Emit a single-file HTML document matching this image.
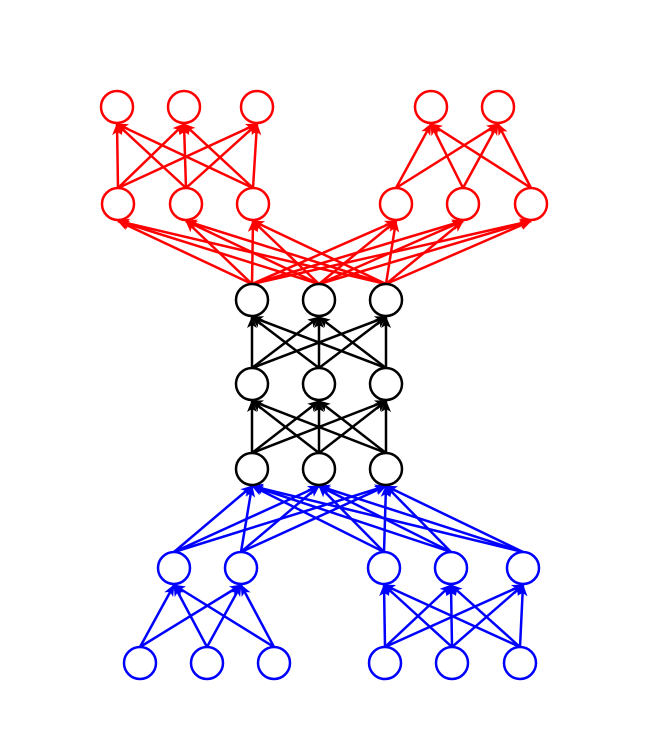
<!DOCTYPE html>
<html><head><meta charset="utf-8"><style>html,body{margin:0;padding:0;background:#fff}svg{display:block}</style></head>
<body>
<svg id="net" width="650" height="750" viewBox="0 0 650 750">
<defs>
<marker id="ar" markerWidth="10" markerHeight="10" refX="9" refY="5" orient="auto" markerUnits="userSpaceOnUse" viewBox="0 0 10 10"><path d="M0,0 L10,5 L0,10 L3,5 z" fill="context-stroke"/></marker>
<marker id="arR" markerWidth="12" markerHeight="12" refX="11" refY="6" orient="auto" markerUnits="userSpaceOnUse"><path d="M0,1 L12,6 L0,11 L3,6 z" fill="#f00"/></marker>
<marker id="arK" markerWidth="12" markerHeight="12" refX="11" refY="6" orient="auto" markerUnits="userSpaceOnUse"><path d="M0,1 L12,6 L0,11 L3,6 z" fill="#000"/></marker>
<marker id="arB" markerWidth="12" markerHeight="12" refX="11" refY="6" orient="auto" markerUnits="userSpaceOnUse"><path d="M0,1 L12,6 L0,11 L3,6 z" fill="#00f"/></marker>
</defs>
<g id="edges"></g><g id="nodes"></g>
</svg>
<script>
const R = 16;
const redTop = [[117,107],[184,107],[257,107],[431,107],[498,107]];
const redMid = [[118,204],[186,204],[253,204],[396,204],[463,204],[531,204]];
const blk3 = [[252,300],[319,300],[386,300]];
const blk2 = [[252,384],[319,384],[386,384]];
const blk1 = [[252,469],[319,469],[386,469]];
const blueMid = [[174,568],[241,568],[384,568],[451,568],[523,568]];
const blueBot = [[140,663],[207,663],[274,663],[385,663],[452,663],[520,663]];
// edge groups: [sources, targets, color]
const groups = [
  [blueBot.slice(0,3), blueMid.slice(0,2), 'B'],
  [blueBot.slice(3), blueMid.slice(2), 'B'],
  [blueMid, blk1, 'B'],
  [blk1, blk2, 'K'],
  [blk2, blk3, 'K'],
  [blk3, redMid, 'R'],
  [redMid.slice(0,3), redTop.slice(0,3), 'R'],
  [redMid.slice(3), redTop.slice(3), 'R']
];
const col = {R:'#f00',K:'#000',B:'#00f'};
const NS = 'http://www.w3.org/2000/svg';
const eg = document.getElementById('edges'), ng = document.getElementById('nodes');
groups.forEach(([src,tgt,c]) => {
  src.forEach(s => tgt.forEach(t => {
    const l = document.createElementNS(NS,'line');
    l.setAttribute('x1',s[0]); l.setAttribute('y1',s[1]-R);
    l.setAttribute('x2',t[0]); l.setAttribute('y2',t[1]+R+1);
    l.setAttribute('stroke',col[c]); l.setAttribute('stroke-width','2.5');
    l.setAttribute('marker-end','url(#ar'+c+')');
    
    
    eg.appendChild(l);
  }));
});
function nodes(arr,c){
  arr.forEach(p => {
    const ci = document.createElementNS(NS,'circle');
    ci.setAttribute('cx',p[0]); ci.setAttribute('cy',p[1]); ci.setAttribute('r',R);
    ci.setAttribute('fill','#fff'); ci.setAttribute('stroke',c); ci.setAttribute('stroke-width','2.5');
    
    
    ng.appendChild(ci);
  });
}
nodes(redTop,'#f00'); nodes(redMid,'#f00');
nodes(blk3,'#000'); nodes(blk2,'#000'); nodes(blk1,'#000');
nodes(blueMid,'#00f'); nodes(blueBot,'#00f');
</script>
</body></html>
